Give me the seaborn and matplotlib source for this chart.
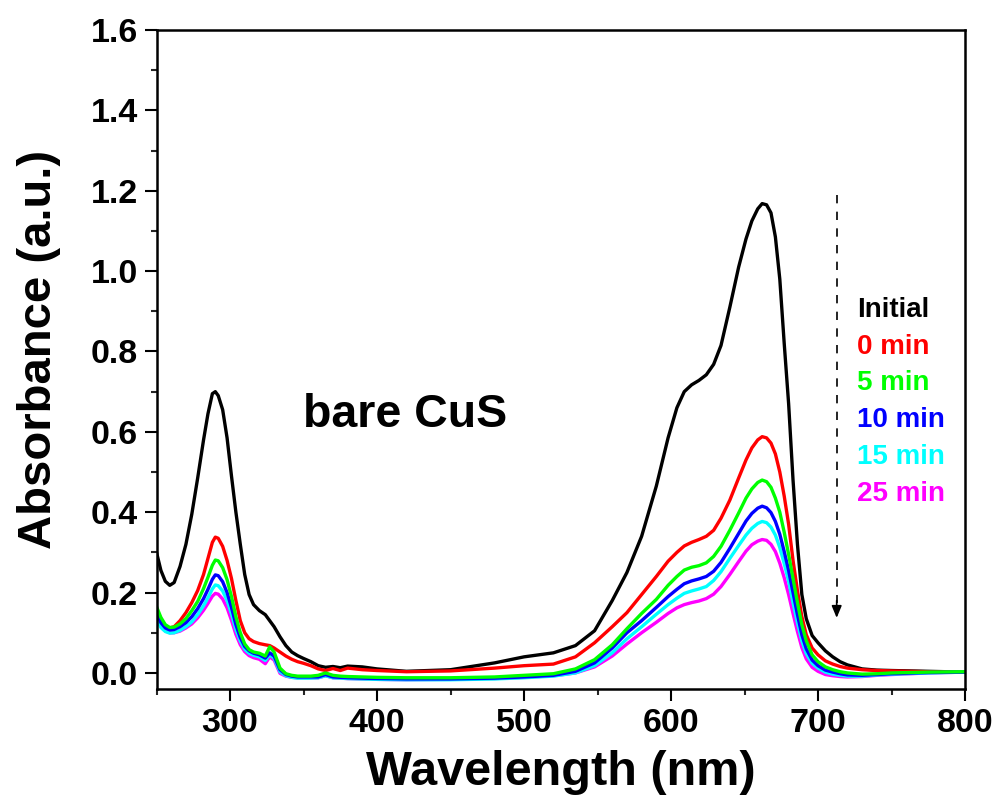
import numpy as np
import pandas as pd
import matplotlib
matplotlib.use("Agg")
import matplotlib.pyplot as plt
from matplotlib.ticker import MultipleLocator
import seaborn as sns

# Wavelength grid (nm) shared by all spectra
wavelength = [250, 253, 256, 259, 262, 266, 270, 274, 278, 282,
              285, 288, 290, 292, 295, 298, 301, 304, 307, 310,
              313, 316, 320, 324, 327, 330, 334, 338, 342, 346,
              350, 355, 360, 365, 370, 375, 380, 390, 400, 420,
              450, 480, 500, 520, 535, 548, 560, 570, 580, 590,
              598, 604, 609, 614, 619, 624, 629, 634, 640, 646,
              651, 655, 659, 662, 665, 668, 671, 674, 677, 680,
              683, 686, 689, 692, 696, 700, 705, 710, 715, 720,
              730, 740, 750, 775, 800]

abs_initial = [0.30, 0.255, 0.228, 0.218, 0.225, 0.265, 0.32, 0.395, 0.485, 0.58,
               0.645, 0.695, 0.70, 0.69, 0.655, 0.585, 0.49, 0.40, 0.32, 0.245,
               0.195, 0.17, 0.155, 0.145, 0.13, 0.115, 0.09, 0.068, 0.052, 0.043,
               0.036, 0.028, 0.018, 0.014, 0.016, 0.013, 0.017, 0.015, 0.01, 0.004,
               0.008, 0.025, 0.04, 0.05, 0.068, 0.105, 0.18, 0.25, 0.34, 0.465,
               0.585, 0.66, 0.70, 0.717, 0.728, 0.742, 0.768, 0.815, 0.91, 1.01,
               1.08, 1.125, 1.155, 1.168, 1.165, 1.145, 1.085, 0.98, 0.82, 0.67,
               0.48, 0.32, 0.195, 0.135, 0.093, 0.075, 0.055, 0.04, 0.028, 0.02,
               0.01, 0.007, 0.006, 0.004, 0.002]

abs_0min = [0.15, 0.128, 0.116, 0.112, 0.115, 0.13, 0.15, 0.175, 0.205, 0.245,
            0.285, 0.325, 0.338, 0.335, 0.315, 0.28, 0.235, 0.18, 0.13, 0.10,
            0.085, 0.078, 0.073, 0.07, 0.068, 0.062, 0.052, 0.042, 0.034, 0.028,
            0.024, 0.018, 0.01, 0.006, 0.011, 0.006, 0.012, 0.008, 0.006, 0.003,
            0.005, 0.012, 0.018, 0.022, 0.04, 0.075, 0.115, 0.15, 0.195, 0.24,
            0.278, 0.30, 0.316, 0.325, 0.332, 0.34, 0.355, 0.385, 0.43, 0.485,
            0.53, 0.56, 0.58, 0.588, 0.585, 0.572, 0.545, 0.50, 0.44, 0.37,
            0.28, 0.205, 0.14, 0.095, 0.062, 0.045, 0.03, 0.022, 0.016, 0.012,
            0.008, 0.006, 0.005, 0.003, 0.002]

abs_5min = [0.165, 0.138, 0.12, 0.113, 0.114, 0.122, 0.135, 0.155, 0.178, 0.21,
            0.238, 0.268, 0.281, 0.279, 0.262, 0.232, 0.19, 0.14, 0.10, 0.072,
            0.058, 0.052, 0.049, 0.042, 0.065, 0.052, 0.012, -0.002, -0.006, -0.008,
            -0.008, -0.008, -0.006, 0.0, -0.006, -0.008, -0.009, -0.01, -0.011, -0.012,
            -0.012, -0.01, -0.006, -0.002, 0.01, 0.033, 0.07, 0.11, 0.148, 0.183,
            0.218, 0.24, 0.256, 0.263, 0.267, 0.274, 0.29, 0.315, 0.355, 0.398,
            0.435, 0.458, 0.474, 0.48, 0.476, 0.462, 0.435, 0.40, 0.35, 0.295,
            0.235, 0.175, 0.12, 0.08, 0.045, 0.028, 0.015, 0.008, 0.003, 0.0,
            -0.003, -0.002, 0.0, 0.002, 0.003]

abs_10min = [0.15, 0.125, 0.112, 0.107, 0.108, 0.115, 0.125, 0.14, 0.16, 0.185,
             0.208, 0.233, 0.244, 0.242, 0.227, 0.2, 0.163, 0.12, 0.088, 0.066,
             0.055, 0.049, 0.045, 0.037, 0.05, 0.042, 0.008, -0.004, -0.008, -0.01,
             -0.01, -0.01, -0.01, -0.004, -0.01, -0.011, -0.012, -0.013, -0.014, -0.015,
             -0.015, -0.013, -0.01, -0.006, 0.004, 0.025, 0.062, 0.1, 0.13, 0.163,
             0.19, 0.208, 0.222, 0.229, 0.234, 0.24, 0.253, 0.275, 0.31, 0.347,
             0.378, 0.397, 0.41, 0.415, 0.411, 0.399, 0.377, 0.345, 0.302, 0.255,
             0.2, 0.145, 0.095, 0.06, 0.032, 0.018, 0.007, 0.002, -0.002, -0.005,
             -0.006, -0.004, -0.002, 0.001, 0.002]

abs_15min = [0.135, 0.113, 0.103, 0.099, 0.1, 0.106, 0.115, 0.127, 0.145, 0.167,
             0.187, 0.209, 0.219, 0.217, 0.204, 0.18, 0.147, 0.108, 0.079, 0.059,
             0.049, 0.044, 0.04, 0.031, 0.045, 0.037, 0.003, -0.007, -0.011, -0.013,
             -0.013, -0.013, -0.012, -0.007, -0.012, -0.013, -0.014, -0.015, -0.016, -0.017,
             -0.017, -0.015, -0.012, -0.008, 0.0, 0.018, 0.05, 0.085, 0.115, 0.146,
             0.17, 0.186, 0.198, 0.204, 0.209, 0.215, 0.23, 0.252, 0.285, 0.317,
             0.343, 0.36, 0.372, 0.377, 0.374, 0.363, 0.343, 0.312, 0.272, 0.228,
             0.175, 0.125, 0.08, 0.048, 0.024, 0.012, 0.002, -0.003, -0.006, -0.008,
             -0.008, -0.005, -0.003, 0.0, 0.002]

abs_25min = [0.14, 0.117, 0.105, 0.1, 0.1, 0.104, 0.112, 0.122, 0.137, 0.156,
             0.173, 0.191, 0.198, 0.196, 0.184, 0.162, 0.131, 0.096, 0.07, 0.053,
             0.043, 0.038, 0.034, 0.023, 0.04, 0.032, -0.001, -0.008, -0.011, -0.012,
             -0.012, -0.012, -0.012, -0.007, -0.012, -0.013, -0.014, -0.015, -0.016, -0.017,
             -0.016, -0.014, -0.011, -0.007, 0.0, 0.015, 0.042, 0.072, 0.1, 0.126,
             0.148, 0.162, 0.17, 0.175, 0.179, 0.185, 0.196, 0.215, 0.245, 0.277,
             0.303, 0.319, 0.328, 0.332, 0.33, 0.32, 0.302, 0.273, 0.237, 0.195,
             0.148, 0.103, 0.063, 0.035, 0.014, 0.004, -0.004, -0.007, -0.009, -0.01,
             -0.009, -0.006, -0.004, 0.0, 0.002]

series_labels = ["Initial", "0 min", "5 min", "10 min", "15 min", "25 min"]
series_colors = ["#000000", "#FF0000", "#00FF00", "#0000FF", "#00FFFF", "#FF00FF"]
series_values = [abs_initial, abs_0min, abs_5min, abs_10min, abs_15min, abs_25min]

sample_name = "bare CuS"
x_ticks = [300, 400, 500, 600, 700, 800]
y_ticks = [0.0, 0.2, 0.4, 0.6, 0.8, 1.0, 1.2, 1.4, 1.6]

frames = []
for label, vals in zip(series_labels, series_values):
    assert len(vals) == len(wavelength), label
    frames.append(pd.DataFrame({"wavelength": wavelength, "absorbance": vals, "sample": label}))
df = pd.concat(frames, ignore_index=True)

sns.set_theme(style="ticks")
plt.rcParams["font.family"] = ["Liberation Sans", "DejaVu Sans"]
plt.rcParams["font.weight"] = "bold"
plt.rcParams["text.color"] = "black"
plt.rcParams["axes.labelcolor"] = "black"

fig = plt.figure(figsize=(10.02, 8.05), dpi=100)
ax = fig.add_axes([0.1562, 0.1441, 0.8069, 0.8186])

palette = dict(zip(series_labels, series_colors))
draw_order = ["Initial", "0 min", "25 min", "15 min", "10 min", "5 min"]
sns.lineplot(data=df, x="wavelength", y="absorbance", hue="sample", hue_order=draw_order,
             palette=palette, estimator=None, sort=False, linewidth=2.4, legend=False, ax=ax)
for ln in ax.get_lines():
    ln.set_solid_joinstyle("round")

ax.set_xlim(250, 800)
ax.set_ylim(-0.04, 1.6)
ax.set_xticks(x_ticks)
ax.set_yticks(y_ticks)
ax.set_yticklabels([f"{v:.1f}" for v in y_ticks])
ax.xaxis.set_minor_locator(MultipleLocator(50))
ax.yaxis.set_minor_locator(MultipleLocator(0.1))
ax.tick_params(axis="both", which="major", direction="out", length=8.5, width=1.5,
               labelsize=24.5, pad=5, colors="black")
ax.tick_params(axis="both", which="minor", direction="out", length=4.5, width=1.5)
ax.tick_params(top=False, right=False, which="both")
for lab in ax.get_xticklabels() + ax.get_yticklabels():
    lab.set_fontweight("bold")
for sp in ax.spines.values():
    sp.set_visible(True)
    sp.set_linewidth(1.8)
    sp.set_color("black")

ax.set_xlabel("Wavelength (nm)", fontsize=35, fontweight="bold", color="black")
ax.set_ylabel("Absorbance (a.u.)", fontsize=34, fontweight="bold", color="black")
ax.xaxis.set_label_coords(0.5003, -0.092)
ax.yaxis.set_label_coords(-0.118, 0.515)

ax.text(349.7, 0.612, sample_name, fontsize=33.5, fontweight="bold", color="black",
        ha="left", va="baseline")

# Time labels, coloured like their spectra
for i, (label, color) in enumerate(zip(series_labels, series_colors)):
    ax.text(726.3, 0.886 - i * 0.0915, label, color=color, fontsize=20,
            fontweight="bold", ha="left", va="baseline")

# Dashed arrow showing the decrease with time
ax.plot([712.7, 712.7], [1.19, 0.175], color="black", lw=1.2, dashes=(5, 5))
ax.annotate("", xy=(712.7, 0.137), xytext=(712.7, 0.18),
            arrowprops=dict(arrowstyle="-|>,head_length=0.6,head_width=0.25",
                            color="black", lw=1.2, shrinkA=0, shrinkB=0))

fig.savefig("out.png", dpi=100, facecolor="white")
